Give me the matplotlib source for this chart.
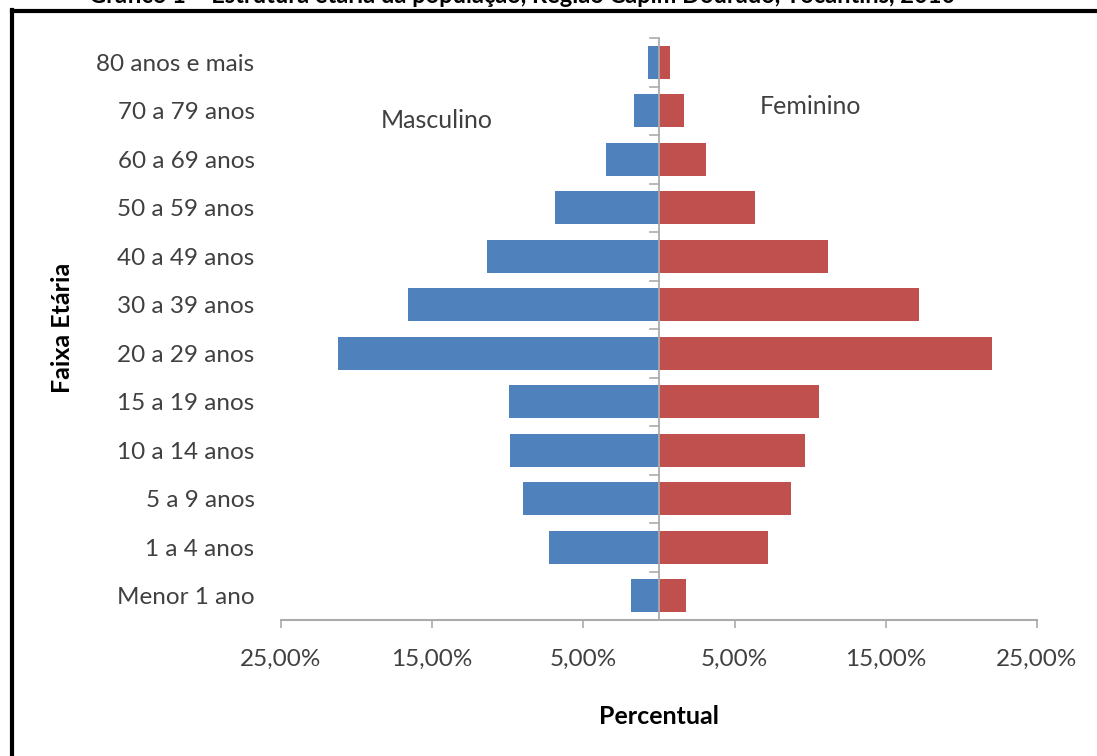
import matplotlib
matplotlib.use("Agg")
import matplotlib.pyplot as plt
from matplotlib.lines import Line2D

categories = ["Menor 1 ano", "1 a 4 anos", "5 a 9 anos", "10 a 14 anos", "15 a 19 anos",
              "20 a 29 anos", "30 a 39 anos", "40 a 49 anos", "50 a 59 anos",
              "60 a 69 anos", "70 a 79 anos", "80 anos e mais"]
masculino = [1.85, 7.3, 9.0, 9.85, 9.9, 21.2, 16.6, 11.4, 6.9, 3.5, 1.65, 0.73]
feminino = [1.8, 7.2, 8.7, 9.65, 10.6, 22.0, 17.2, 11.2, 6.35, 3.1, 1.65, 0.73]
xticks = [-25, -15, -5, 5, 15, 25]
xticklabels = ["25,00%", "15,00%", "5,00%", "5,00%", "15,00%", "25,00%"]
title = "Gráfico 1 – Estrutura etária da população, Região Capim Dourado, Tocantins, 2010"

plt.rcParams['font.family'] = ['Lato', 'DejaVu Sans']
W, H = 1097, 756
fig = plt.figure(figsize=(W / 100, H / 100), dpi=100)
ax = fig.add_axes([281 / W, 136 / H, (1037 - 281) / W, (718 - 136) / H])

y = list(range(len(categories)))
ax.barh(y, [-m for m in masculino], height=0.68, color="#4F81BD", edgecolor="none")
ax.barh(y, feminino, height=0.68, color="#C0504D", edgecolor="none")

ax.set_xlim(-25, 25)
ax.set_ylim(-0.5, len(categories) - 0.5)
for s in ["top", "right", "left"]:
    ax.spines[s].set_visible(False)
ax.spines["bottom"].set_color("#ababab")
ax.spines["bottom"].set_linewidth(1.5)
ax.set_xticks(xticks)
ax.set_xticklabels(xticklabels, fontsize=17.5, color="#404040")
ax.tick_params(axis="x", direction="out", length=5.8, width=1.2, color="#ababab", pad=15)

ax.set_yticks(y)
ax.set_yticklabels(categories, fontsize=17.5, color="#404040")
ax.tick_params(axis="y", length=0, pad=19)

# center axis with ticks at boundaries
ax.axvline(0, color="#ababab", lw=1.3, zorder=3)
for b in [i - 0.5 for i in range(len(categories) + 1)]:
    ax.plot([-0.6, 0], [b, b], color="#ababab", lw=1.2, zorder=3, clip_on=False)

fig.text(63 / W, 1 - 328 / H, "Faixa Etária", fontsize=18, fontweight="bold", color="black",
         rotation=90, ha="center", va="center")
fig.text(659 / W, 1 - 716 / H, "Percentual", fontsize=18, fontweight="bold", color="black",
         ha="center", va="center")

fig.text(437 / W, 1 - 120 / H, "Masculino", fontsize=18, color="#404040", ha="center", va="center")
fig.text(810 / W, 1 - 107 / H, "Feminino", fontsize=18, color="#404040", ha="center", va="center")

# title cut at top
fig.text(955 / W, 1 - 3 / H, title, fontsize=17, fontweight="bold", color="black",
         ha="right", va="baseline")

# frame border
fig.add_artist(Line2D([12 / W, 12 / W], [0, 1 - 10 / H], color="black", lw=3, transform=fig.transFigure))
fig.add_artist(Line2D([12 / W, 1], [1 - 11 / H, 1 - 11 / H], color="black", lw=3, transform=fig.transFigure))

fig.savefig("out.png", dpi=100)
